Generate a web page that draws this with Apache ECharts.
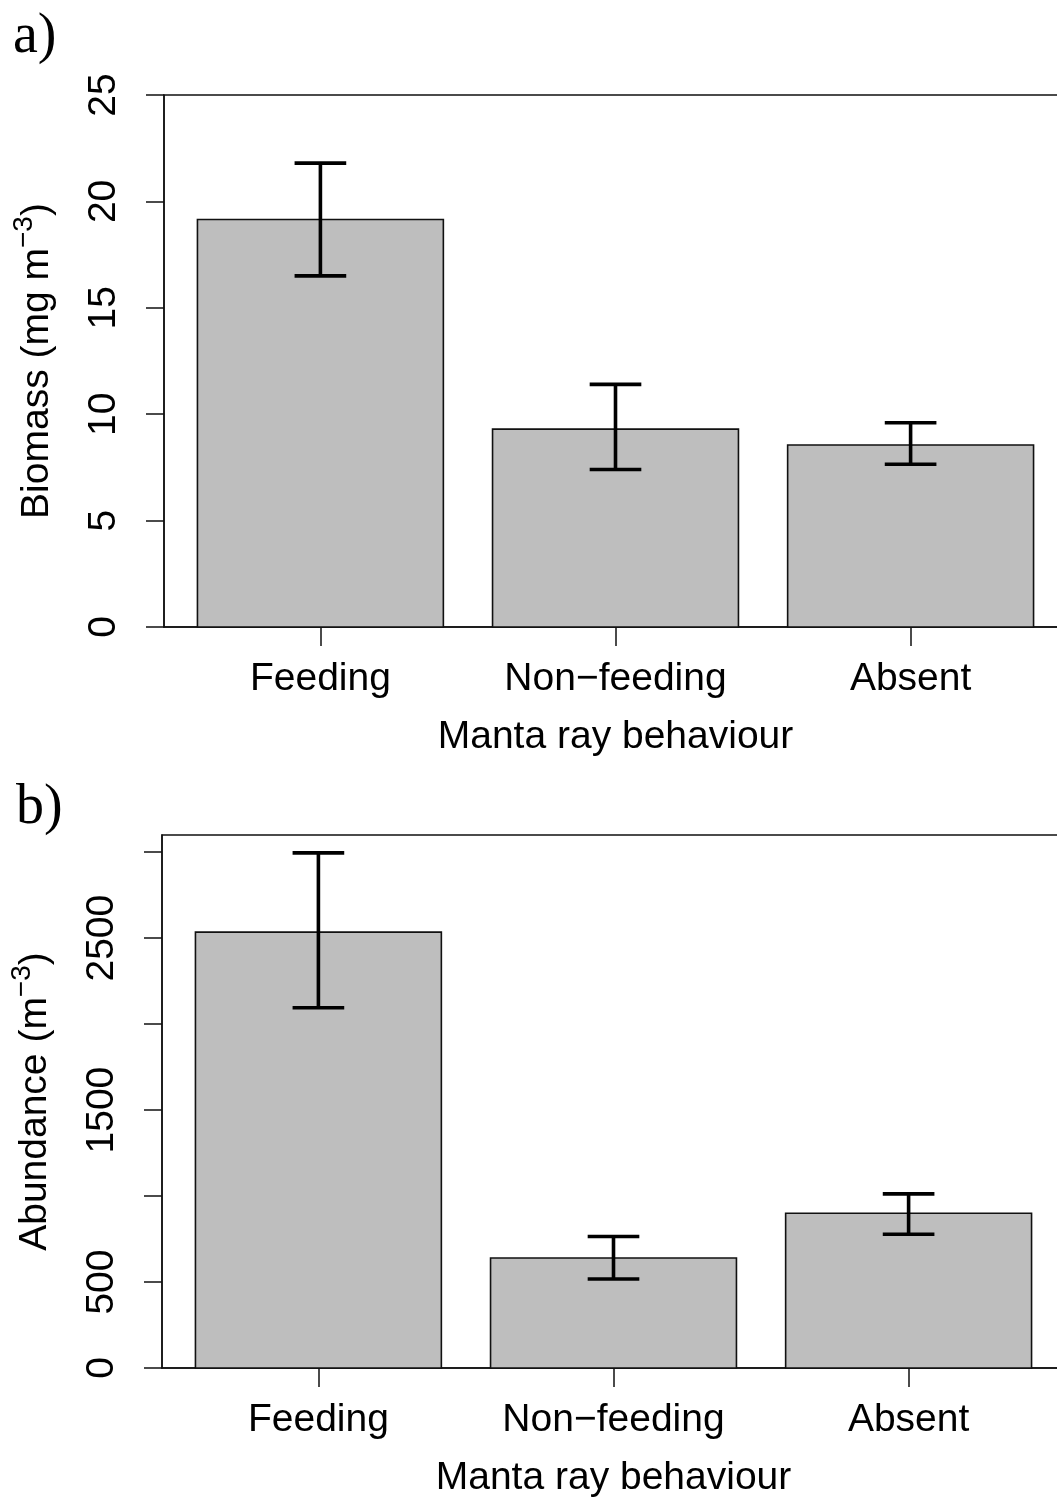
<!DOCTYPE html>
<html>
<head>
<meta charset="utf-8">
<script src="https://cdn.jsdelivr.net/npm/echarts@6/dist/echarts.min.js"></script>
<style>
html,body{margin:0;padding:0;background:#fff;}
#chart{width:1057px;height:1500px;}
</style>
</head>
<body>
<div id="chart"></div>
<script>
// ---------------- data ----------------
const categories = ['Feeding', 'Non\u2212feeding', 'Absent'];
const biomassMean  = [19.15, 9.3, 8.55];
const biomassLower = [16.5, 7.4, 7.65];
const biomassUpper = [21.8, 11.4, 9.6];
const abundanceMean  = [2535, 640, 900];
const abundanceLower = [2095, 518, 778];
const abundanceUpper = [2996, 765, 1013];
const biomassTicks = [0, 5, 10, 15, 20, 25];
const biomassTickLabels = [0, 5, 10, 15, 20, 25];
const abundanceTicks = [0, 500, 1000, 1500, 2000, 2500, 3000];
const abundanceTickLabels = [0, 500, 1500, 2500];
const xAxisTitle = 'Manta ray behaviour';
const biomassTitle = '{t|Biomass (mg m}{s|\u22123}{t|)}';
const abundanceTitle = '{t|Abundance (m}{s|\u22123}{t|)}';
const panelLabels = ['a)', 'b)'];

// ---------------- layout / style ----------------
const FONT = '"Liberation Sans", Arial, sans-serif';
const SERIF = '"Liberation Serif", "Times New Roman", serif';
const INK = '#111';
const BAR_FILL = '#bebebe';
const BAR_W = 1, BAR_SPACE = 0.2, CAP_W = 0.21;
const centers = categories.map((c, i) => BAR_SPACE + i * (BAR_W + BAR_SPACE) + BAR_W / 2);
const xEnd = categories.length * (BAR_W + BAR_SPACE);
const xPad = 0.04 * (xEnd - BAR_SPACE);
const xMin = BAR_SPACE - xPad, xMax = xEnd + xPad;

function rows(mean, lo, hi) {
  return categories.map((c, i) => [centers[i], mean[i], lo[i], hi[i]]);
}

function barItem(params, api) {
  const x = api.value(0), y = api.value(1);
  const p0 = api.coord([x - BAR_W / 2, 0]);
  const p1 = api.coord([x + BAR_W / 2, y]);
  return {
    type: 'rect',
    shape: { x: p0[0], y: p1[1], width: p1[0] - p0[0], height: p0[1] - p1[1] },
    style: { fill: BAR_FILL, stroke: INK, lineWidth: 1.6 }
  };
}
function errItem(params, api) {
  const x = api.value(0), lo = api.value(2), hi = api.value(3);
  const pl = api.coord([x, lo]), ph = api.coord([x, hi]);
  const hw = api.size([CAP_W, 0])[0] / 2;
  const st = { stroke: '#000', lineWidth: 3.6, lineCap: 'butt' };
  return {
    type: 'group',
    children: [
      { type: 'line', shape: { x1: pl[0], y1: pl[1], x2: ph[0], y2: ph[1] }, style: st },
      { type: 'line', shape: { x1: ph[0] - hw, y1: ph[1], x2: ph[0] + hw, y2: ph[1] }, style: st },
      { type: 'line', shape: { x1: pl[0] - hw, y1: pl[1], x2: pl[0] + hw, y2: pl[1] }, style: st }
    ]
  };
}

const lineStyle = { color: INK, width: 1.5 };
const richName = {
  t: { fontSize: 39, lineHeight: 54, fontFamily: FONT, color: '#000' },
  s: { fontSize: 28, lineHeight: 26, verticalAlign: 'top', fontFamily: FONT, color: '#000' }
};

function xAxis(gi) {
  return {
    gridIndex: gi, type: 'value', min: xMin, max: xMax,
    axisLine: { show: true, onZero: false, lineStyle },
    axisTick: { show: true, length: 19, customValues: centers, lineStyle },
    axisLabel: {
      customValues: centers, margin: 33, fontSize: 39, color: '#000', fontFamily: FONT,
      formatter: v => categories[Math.round((v - centers[0]) / (BAR_W + BAR_SPACE))]
    },
    splitLine: { show: false },
    name: xAxisTitle, nameLocation: 'middle', nameGap: 91,
    nameTextStyle: { fontSize: 39, color: '#000', fontFamily: FONT }
  };
}
function yAxis(gi, max, ticks, labels, title) {
  return {
    gridIndex: gi, type: 'value', min: 0, max: max,
    axisLine: { show: true, onZero: false, lineStyle },
    axisTick: { show: true, length: 18, customValues: ticks, lineStyle },
    axisLabel: { customValues: labels, rotate: 90, margin: 40, fontSize: 39, color: '#000',
      fontFamily: FONT, formatter: v => String(v) },
    splitLine: { show: false },
    name: title, nameLocation: 'middle', nameRotate: 90, nameGap: 100,
    nameTextStyle: { rich: richName }
  };
}

const panelStyle = { fontFamily: SERIF, fontSize: 56, fontWeight: 'normal', color: '#000' };

const option = {
  backgroundColor: '#fff',
  animation: false,
  title: [
    { text: panelLabels[0], left: 13, top: 9, padding: 0, textStyle: panelStyle },
    { text: panelLabels[1], left: 16, top: 780, padding: 0, textStyle: panelStyle }
  ],
  grid: [
    { left: 164, top: 95, height: 532, right: -10, show: true, borderColor: INK, borderWidth: 1.5,
      backgroundColor: 'transparent', containLabel: false, outerBoundsMode: 'none' },
    { left: 162, top: 835, height: 533, right: -8, show: true, borderColor: INK, borderWidth: 1.5,
      backgroundColor: 'transparent', containLabel: false, outerBoundsMode: 'none' }
  ],
  xAxis: [xAxis(0), xAxis(1)],
  yAxis: [
    yAxis(0, 25, biomassTicks, biomassTickLabels, biomassTitle),
    yAxis(1, 3100, abundanceTicks, abundanceTickLabels, abundanceTitle)
  ],
  series: [
    { type: 'custom', xAxisIndex: 0, yAxisIndex: 0, renderItem: barItem,
      data: rows(biomassMean, biomassLower, biomassUpper), encode: { x: 0, y: 1 }, z: 2 },
    { type: 'custom', xAxisIndex: 0, yAxisIndex: 0, renderItem: errItem,
      data: rows(biomassMean, biomassLower, biomassUpper), encode: { x: 0, y: [2, 3] }, z: 3 },
    { type: 'custom', xAxisIndex: 1, yAxisIndex: 1, renderItem: barItem,
      data: rows(abundanceMean, abundanceLower, abundanceUpper), encode: { x: 0, y: 1 }, z: 2 },
    { type: 'custom', xAxisIndex: 1, yAxisIndex: 1, renderItem: errItem,
      data: rows(abundanceMean, abundanceLower, abundanceUpper), encode: { x: 0, y: [2, 3] }, z: 3 }
  ]
};

const chart = echarts.init(document.getElementById('chart'), null, { renderer: 'canvas' });
chart.setOption(option);
</script>
</body>
</html>
